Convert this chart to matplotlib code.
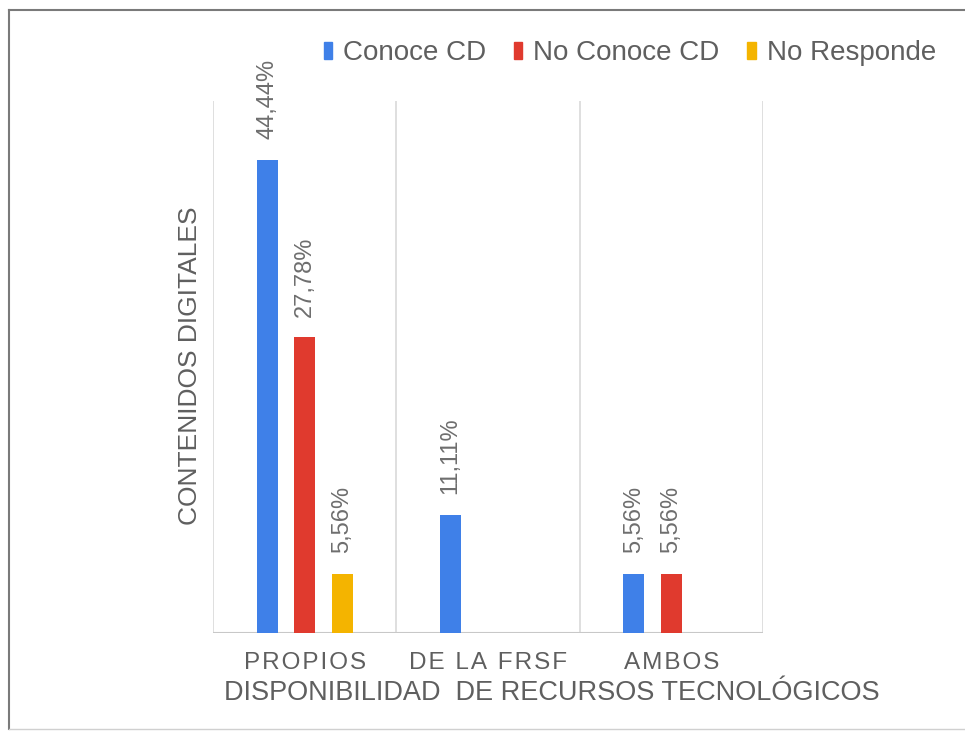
import matplotlib
matplotlib.use("Agg")
import matplotlib.pyplot as plt
from matplotlib.lines import Line2D
import numpy as np

plt.rcParams['font.family'] = ['Liberation Sans', 'DejaVu Sans']

categories = ["PROPIOS", "DE LA FRSF", "AMBOS"]
series_names = ["Conoce CD", "No Conoce CD", "No Responde"]
conoce = [44.44, 11.11, 5.56]
no_conoce = [27.78, None, 5.56]
no_responde = [5.56, None, None]
colors = ["#3f80e8", "#e03a2e", "#f4b400"]

TEXT = "#5f5f5f"
GRID = "#d9d9d9"


def spaced(s):
    # widen letter spacing with hair spaces
    return "\u200a".join(s)


fig = plt.figure(figsize=(9.65, 7.31), dpi=100)
W, H = 965, 731
ax = fig.add_axes([213 / W, 1 - 633 / H, 550 / W, 532 / H])

offsets = [-0.205, 0.0, 0.205]
width = 0.115
x = np.arange(len(categories)) + 0.5

handles = []
for values, off, col, name in zip([conoce, no_conoce, no_responde], offsets, colors, series_names):
    for xi, v in zip(x, values):
        if v is None:
            continue
        ax.bar(xi + off, v, width=width, color=col, zorder=3)
        ax.annotate(f"{v:.2f}%".replace(".", ","), (xi + off, v),
                    xytext=(0, 15), textcoords="offset points",
                    rotation=90, ha="center", va="bottom",
                    fontsize=17, color="#6e6e6e")
    handles.append(plt.Rectangle((0, 0), 1, 1, color=col, label=name))

ax.set_xlim(0, 3)
ax.set_ylim(0, 50)

# category separators
for b in range(0, 4):
    ax.axvline(b, color=GRID, lw=1.2, zorder=1)
ax.axhline(0, color="#c8c8c8", lw=1.5, zorder=2)

for sp in ax.spines.values():
    sp.set_visible(False)
ax.set_yticks([])
ax.set_xticks(x)
ax.set_xticklabels([spaced(c) for c in categories], fontsize=17.5, color=TEXT)
ax.tick_params(axis="x", length=0, pad=14)

fig.text(552 / W, 1 - 693 / H, "DISPONIBILIDAD  DE RECURSOS TECNOLÓGICOS",
         fontsize=19.5, color=TEXT, ha="center", va="center")
fig.text(190 / W, 1 - 366 / H, "CONTENIDOS DIGITALES", rotation=90,
         fontsize=19, color=TEXT, ha="center", va="center")

fig.legend(handles=handles, loc="center right", bbox_to_anchor=(950 / W, 1 - 53 / H),
           ncol=3, frameon=False, fontsize=20, handlelength=0.3,
           handleheight=0.55, handletextpad=0.4, columnspacing=1.0,
           labelcolor=TEXT, borderpad=0)

# outer frame
fig.add_artist(Line2D([9 / W, 1], [1 - 10 / H, 1 - 10 / H], color="#7a7a7a", lw=1.5))
fig.add_artist(Line2D([9 / W, 9 / W], [1 - 10 / H, 1 - 729 / H], color="#7a7a7a", lw=1.5))
fig.add_artist(Line2D([9 / W, 1], [1 - 729 / H, 1 - 729 / H], color="#d0d0d0", lw=1))

fig.savefig("out.png", dpi=100)
